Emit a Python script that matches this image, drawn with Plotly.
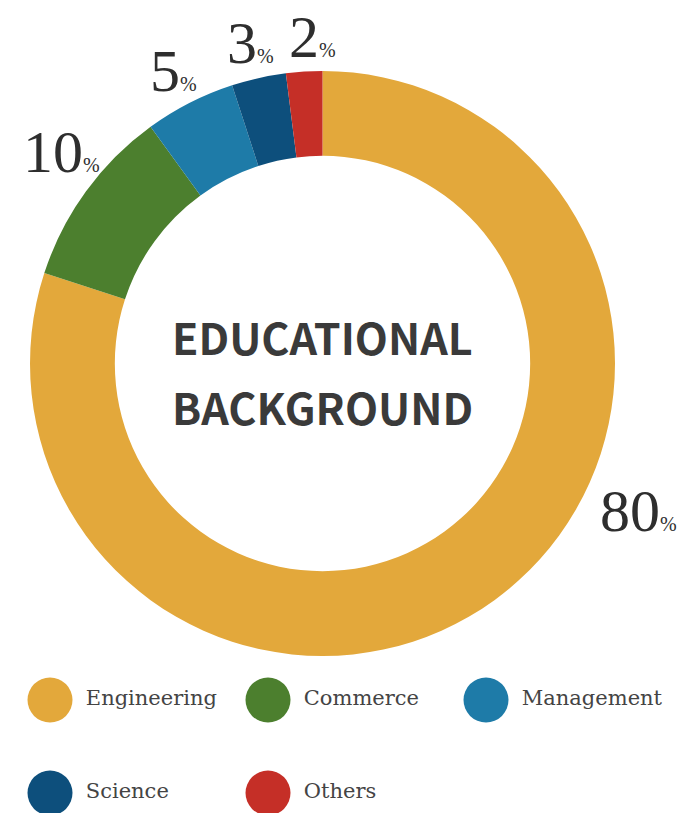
import math
import plotly.graph_objects as go

# ---- data ----
categories = ["Engineering", "Commerce", "Management", "Science", "Others"]
values = [80, 10, 5, 3, 2]
colors = ["#E3A83B", "#4C7F2E", "#1E7BA8", "#0D4F7C", "#C52F27"]
title_lines = ["EDUCATIONAL", "BACKGROUND"]

# ---- layout constants (pixels) ----
W, H = 683, 813
PIE_LEFT, PIE_RIGHT, PIE_TOP, PIE_BOTTOM = 30, 615, 70, 657
CX = (PIE_LEFT + PIE_RIGHT) / 2
CY = (PIE_TOP + PIE_BOTTOM) / 2
LABEL_R = 328
# (angle deg clockwise from top, radius px) for labels not at slice middle
LABEL_OVERRIDE = {"Engineering": (115, 349), "Commerce": (309, 336), "Others": (358.3, 327)}

NUM_FONT = "Liberation Serif, Times New Roman, serif"
TITLE_FONT = "Noto Sans CJK JP, Roboto, sans-serif"
LEG_FONT = "DejaVu Serif, Liberation Serif, serif"

fig = go.Figure()

fig.add_trace(go.Pie(
    labels=categories,
    values=values,
    marker=dict(colors=colors, line=dict(width=0)),
    hole=0.71,
    sort=False,
    direction="clockwise",
    rotation=0,
    textinfo="none",
    showlegend=False,
    domain=dict(x=[PIE_LEFT / W, PIE_RIGHT / W], y=[1 - PIE_BOTTOM / H, 1 - PIE_TOP / H]),
))

# legend drawn as a scatter of circles with text
ncol = 3
fig.add_trace(go.Scatter(
    x=[i % ncol for i in range(len(categories))],
    y=[i // ncol for i in range(len(categories))],
    mode="markers+text",
    marker=dict(size=45, color=colors, symbol="circle"),
    text=[" " + c for c in categories],
    textposition="middle right",
    textfont=dict(family=LEG_FONT, size=21, color="#444444"),
    showlegend=False,
    hoverinfo="skip",
    cliponaxis=False,
))

# percentage labels derived from the data
total = sum(values)
cum = 0
annotations = []
for cat, v in zip(categories, values):
    mid = 360 * (cum + v / 2) / total
    cum += v
    ang, r = LABEL_OVERRIDE.get(cat, (mid, LABEL_R))
    a = math.radians(ang)
    px = CX + r * math.sin(a)
    py = CY - r * math.cos(a)
    annotations.append(dict(
        x=px / W, y=1 - py / H, xref="paper", yref="paper",
        text=f"{v}<span style='font-size:20px'>%</span>",
        showarrow=False, xanchor="center", yanchor="middle",
        font=dict(family=NUM_FONT, size=60, color="#2e2e2e"),
    ))

# center title
for k, line in enumerate(title_lines):
    annotations.append(dict(
        x=CX / W, y=1 - (336 + 70 * k) / H, xref="paper", yref="paper",
        text=line, showarrow=False, xanchor="center", yanchor="middle",
        font=dict(family=TITLE_FONT, size=43, color="#3a3a3a", weight="bold"),
    ))

# legend axis mapping: col 0 -> 50px, spacing 218px; row 0 -> 700px, spacing 93px
x0, dx = 50, 218
y0, dy = 700, 93
leg_top = 650.4
fig.update_layout(
    width=W, height=H,
    margin=dict(l=0, r=0, t=0, b=0),
    paper_bgcolor="white", plot_bgcolor="white",
    annotations=annotations,
    xaxis=dict(domain=[0, 1], range=[-x0 / dx, (W - x0) / dx], visible=False, fixedrange=True),
    yaxis=dict(domain=[0, 1 - leg_top / H], range=[(H - y0) / dy, (leg_top - y0) / dy],
               visible=False, fixedrange=True),
)

fig.write_html("out.html", config={"displayModeBar": False},
               post_script="document.body.style.margin='0px';")
